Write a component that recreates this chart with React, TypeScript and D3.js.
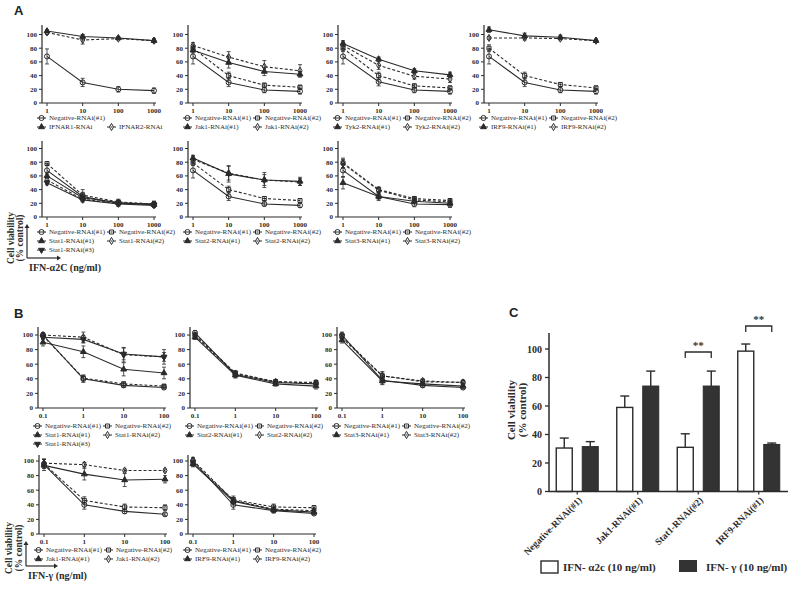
import React from 'react';
import * as d3 from 'd3';

// doses (ng/ml)
const doseA = [1, 10, 100, 1000];
const doseB = [0.1, 1, 10, 100];
const doseALabels = ['1', '10', '100', '1000'];
const doseBLabels = ['0.1', '1', '10', '100'];
const yTicks = [0, 20, 40, 60, 80, 100];

// A, IFN-a2C: IFNAR
const a1Neg1 = [68, 30, 20, 18];
const a1Neg1Err = [11, 6, 4, 4];
const a1Ifnar1 = [105, 97, 95, 91];
const a1Ifnar1Err = [2, 3, 2, 2];
const a1Ifnar2 = [103, 92, 94, 91];
const a1Ifnar2Err = [3, 6, 2, 3];
// Jak1
const a2Neg1 = [68, 30, 19, 17];
const a2Neg2 = [80, 40, 26, 23];
const a2Kd1 = [77, 59, 46, 42];
const a2Kd2 = [84, 67, 53, 47];
const a2Err = [[11, 6, 4, 4], [5, 5, 3, 3], [4, 8, 6, 4], [4, 8, 9, 9]];
// Tyk2
const a3Neg1 = [68, 31, 19, 17];
const a3Neg2 = [80, 40, 25, 22];
const a3Kd1 = [87, 64, 47, 41];
const a3Kd2 = [84, 55, 39, 35];
const a3Err = [[11, 6, 4, 4], [5, 5, 3, 3], [4, 3, 3, 4], [5, 6, 4, 5]];
// IRF9
const a4Neg1 = [68, 30, 19, 17];
const a4Neg2 = [80, 40, 27, 22];
const a4Kd1 = [107, 98, 96, 91];
const a4Kd2 = [95, 95, 94, 91];
const a4Err = [[11, 6, 4, 4], [5, 5, 3, 3], [4, 4, 3, 2], [2, 3, 2, 2]];
// Stat1
const a5Neg1 = [68, 30, 20, 19];
const a5Neg2 = [78, 32, 22, 19];
const a5Kd1 = [60, 28, 21, 18];
const a5Kd2 = [54, 26, 20, 18];
const a5Kd3 = [50, 25, 19, 17];
const a5Err = [[10, 6, 4, 4], [3, 8, 4, 4], [3, 4, 3, 3], [3, 3, 3, 3], [3, 3, 3, 3]];
// Stat2
const a6Neg1 = [68, 30, 19, 17];
const a6Neg2 = [79, 40, 27, 24];
const a6Kd1 = [86, 63, 54, 52];
const a6Kd2 = [84, 64, 54, 51];
const a6Err = [[11, 6, 3, 3], [4, 5, 3, 3], [4, 12, 11, 6], [5, 10, 8, 5]];
// Stat3
const a7Neg1 = [68, 30, 19, 18];
const a7Neg2 = [79, 40, 27, 24];
const a7Kd1 = [50, 30, 23, 20];
const a7Kd2 = [78, 39, 25, 22];
const a7Err = [[10, 6, 4, 4], [7, 4, 3, 3], [9, 4, 3, 3], [6, 4, 3, 3]];

// B, IFN-gamma: Stat1
const b1Neg1 = [100, 40, 31, 28];
const b1Neg2 = [99, 41, 33, 30];
const b1Kd1 = [90, 77, 53, 48];
const b1Kd2 = [100, 97, 73, 70];
const b1Kd3 = [97, 94, 74, 70];
const b1Err = [[3, 5, 3, 2], [3, 4, 3, 2], [5, 8, 9, 8], [3, 7, 10, 10], [3, 5, 8, 6]];
// Stat2
const b2Neg1 = [103, 46, 35, 33];
const b2Neg2 = [100, 48, 36, 35];
const b2Kd1 = [97, 45, 33, 30];
const b2Kd2 = [99, 47, 36, 34];
const b2Err = [[3, 4, 3, 3], [3, 3, 3, 3], [3, 4, 3, 4], [3, 3, 3, 3]];
// Stat3
const b3Neg1 = [100, 38, 31, 28];
const b3Neg2 = [98, 44, 36, 35];
const b3Kd1 = [93, 37, 33, 30];
const b3Kd2 = [96, 44, 37, 35];
const b3Err = [[4, 5, 3, 2], [4, 6, 3, 3], [4, 5, 3, 3], [4, 4, 3, 3]];
// Jak1
const b4Neg1 = [95, 40, 31, 27];
const b4Neg2 = [96, 46, 37, 36];
const b4Kd1 = [94, 82, 74, 75];
const b4Kd2 = [97, 95, 87, 87];
const b4Err = [[8, 6, 3, 2], [6, 5, 4, 4], [4, 8, 9, 5], [5, 3, 2, 2]];
// IRF9
const b5Neg1 = [100, 40, 32, 28];
const b5Neg2 = [97, 47, 37, 36];
const b5Kd1 = [96, 45, 33, 30];
const b5Kd2 = [101, 46, 34, 32];
const b5Err = [[4, 6, 3, 2], [4, 5, 4, 3], [4, 5, 3, 3], [4, 4, 3, 3]];

// C, bars at 10 ng/ml
const cCats = ['Negative-RNAi(#1)', 'Jak1-RNAi(#1)', 'Stat1-RNAi(#2)', 'IRF9-RNAi(#1)'];
const cAlpha = [30.5, 59, 31, 98.5];
const cAlphaErr = [7, 8, 9.5, 5];
const cGamma = [31.5, 74, 74, 33];
const cGammaErr = [3.5, 10.5, 10.5, 1];

const INK = '#2b2b2b';
const SERIF = '"Liberation Serif", "Times New Roman", serif';
const SANS = '"Liberation Sans", Arial, sans-serif';

const s = (name, v, e, sym, dash) => ({ name, v, e, sym, dash });
const std = (names, vals, errs) =>
  vals.map((v, i) => s(names[i], v, errs[i], ['circle', 'square', 'tri', 'diamond', 'itri'][i], i % 2 === 1));
const twoCol = [[0, 0], [0, 1], [1, 0], [1, 1], [2, 0]];

const panels = [
  { ax: 42, y0: 103, top: 25, kind: 'A', ly: 15,
    series: [s('Negative-RNAi(#1)', a1Neg1, a1Neg1Err, 'circle', false),
             s('IFNAR1-RNAi', a1Ifnar1, a1Ifnar1Err, 'tri', false),
             s('IFNAR2-RNAi', a1Ifnar2, a1Ifnar2Err, 'diamond', true)],
    legend: [[0, 0], [1, 0], [1, 1]] },
  { ax: 188, y0: 103, top: 25, kind: 'A', ly: 15, legend: twoCol,
    series: std(['Negative-RNAi(#1)', 'Negative-RNAi(#2)', 'Jak1-RNAi(#1)', 'Jak1-RNAi(#2)'], [a2Neg1, a2Neg2, a2Kd1, a2Kd2], a2Err) },
  { ax: 338, y0: 103, top: 25, kind: 'A', ly: 15, legend: twoCol,
    series: std(['Negative-RNAi(#1)', 'Negative-RNAi(#2)', 'Tyk2-RNAi(#1)', 'Tyk2-RNAi(#2)'], [a3Neg1, a3Neg2, a3Kd1, a3Kd2], a3Err) },
  { ax: 484, y0: 103, top: 25, kind: 'A', ly: 15, legend: twoCol,
    series: std(['Negative-RNAi(#1)', 'Negative-RNAi(#2)', 'IRF9-RNAi(#1)', 'IRF9-RNAi(#2)'], [a4Neg1, a4Neg2, a4Kd1, a4Kd2], a4Err) },
  { ax: 42, y0: 217, top: 141, kind: 'A', ly: 15, legend: twoCol,
    series: std(['Negative-RNAi(#1)', 'Negative-RNAi(#2)', 'Stat1-RNAi(#1)', 'Stat1-RNAi(#2)', 'Stat1-RNAi(#3)'], [a5Neg1, a5Neg2, a5Kd1, a5Kd2, a5Kd3], a5Err) },
  { ax: 188, y0: 217, top: 141, kind: 'A', ly: 15, legend: twoCol,
    series: std(['Negative-RNAi(#1)', 'Negative-RNAi(#2)', 'Stat2-RNAi(#1)', 'Stat2-RNAi(#2)'], [a6Neg1, a6Neg2, a6Kd1, a6Kd2], a6Err) },
  { ax: 338, y0: 217, top: 141, kind: 'A', ly: 15, legend: twoCol,
    series: std(['Negative-RNAi(#1)', 'Negative-RNAi(#2)', 'Stat3-RNAi(#1)', 'Stat3-RNAi(#2)'], [a7Neg1, a7Neg2, a7Kd1, a7Kd2], a7Err) },
  { ax: 38, y0: 408, top: 327, kind: 'B', ly: 18, legend: twoCol,
    series: std(['Negative-RNAi(#1)', 'Negative-RNAi(#2)', 'Stat1-RNAi(#1)', 'Stat1-RNAi(#2)', 'Stat1-RNAi(#3)'], [b1Neg1, b1Neg2, b1Kd1, b1Kd2, b1Kd3], b1Err) },
  { ax: 190, y0: 408, top: 327, kind: 'B', ly: 18, legend: twoCol,
    series: std(['Negative-RNAi(#1)', 'Negative-RNAi(#2)', 'Stat2-RNAi(#1)', 'Stat2-RNAi(#2)'], [b2Neg1, b2Neg2, b2Kd1, b2Kd2], b2Err) },
  { ax: 337, y0: 408, top: 327, kind: 'B', ly: 18, legend: twoCol,
    series: std(['Negative-RNAi(#1)', 'Negative-RNAi(#2)', 'Stat3-RNAi(#1)', 'Stat3-RNAi(#2)'], [b3Neg1, b3Neg2, b3Kd1, b3Kd2], b3Err) },
  { ax: 39, y0: 534, top: 455, kind: 'B', ly: 16, legend: twoCol,
    series: std(['Negative-RNAi(#1)', 'Negative-RNAi(#2)', 'Jak1-RNAi(#1)', 'Jak1-RNAi(#2)'], [b4Neg1, b4Neg2, b4Kd1, b4Kd2], b4Err) },
  { ax: 188, y0: 534, top: 455, kind: 'B', ly: 16, legend: twoCol,
    series: std(['Negative-RNAi(#1)', 'Negative-RNAi(#2)', 'IRF9-RNAi(#1)', 'IRF9-RNAi(#2)'], [b5Neg1, b5Neg2, b5Kd1, b5Kd2], b5Err) },
];

const symType = sym =>
  sym === 'circle' ? d3.symbolCircle : sym === 'square' ? d3.symbolSquare : sym === 'diamond' ? d3.symbolDiamond : d3.symbolTriangle;
const symSize = { circle: 20, square: 16, diamond: 15, tri: 15, itri: 15 };

const Marker = ({ sym, x, y }) => {
  const d = d3.symbol(symType(sym), symSize[sym])();
  const filled = sym === 'tri' || sym === 'itri';
  return (
    <path d={d} transform={`translate(${x},${y})${sym === 'itri' ? ' rotate(180)' : ''}`}
      fill={filled ? INK : 'none'} stroke={INK} strokeWidth={1} />
  );
};

const LinePanel = ({ p }) => {
  const isA = p.kind === 'A';
  const doses = isA ? doseA : doseB;
  const labels = isA ? doseALabels : doseBLabels;
  const x = d3.scaleLog().domain(isA ? [1, 1000] : [0.1, 100]).range(isA ? [p.ax + 5, p.ax + 112] : [p.ax + 5, p.ax + 126]);
  const y = d3.scaleLinear().domain([0, 100]).range([p.y0, p.y0 - (isA ? 68.5 : 73)]);
  const line = d3.line().x((d, i) => x(doses[i])).y(d => y(d));
  const xEnd = x.range()[1] + 2;
  return (
    <g fontFamily={SERIF} fill={INK}>
      {/* axes */}
      <line x1={p.ax} x2={p.ax} y1={p.y0} y2={p.top} stroke={INK} strokeWidth={1.2} />
      <line x1={p.ax} x2={xEnd} y1={p.y0} y2={p.y0} stroke={INK} strokeWidth={1.2} />
      {yTicks.map(t => (
        <g key={t}>
          <line x1={p.ax - 3} x2={p.ax} y1={y(t)} y2={y(t)} stroke={INK} />
          <text x={p.ax - 5} y={y(t)} dy="0.35em" textAnchor="end" fontSize={7} fontWeight="bold">{t}</text>
        </g>
      ))}
      {doses.map((d, i) => (
        <g key={d}>
          <line x1={x(d)} x2={x(d)} y1={p.y0} y2={p.y0 + 3} stroke={INK} />
          <text x={x(d)} y={p.y0 + 9.5} textAnchor="middle" fontSize={7} fontWeight="bold">{labels[i]}</text>
        </g>
      ))}
      {/* series */}
      {p.series.map((sr, k) => (
        <g key={k}>
          <path d={line(sr.v)} fill="none" stroke={INK} strokeWidth={1.1} strokeDasharray={sr.dash ? '3,2' : null} />
          {sr.v.map((v, i) => (
            <g key={i} stroke={INK} strokeWidth={0.8}>
              <line x1={x(doses[i])} x2={x(doses[i])} y1={y(v - sr.e[i])} y2={y(v + sr.e[i])} />
              <line x1={x(doses[i]) - 2} x2={x(doses[i]) + 2} y1={y(v + sr.e[i])} y2={y(v + sr.e[i])} />
              <line x1={x(doses[i]) - 2} x2={x(doses[i]) + 2} y1={y(v - sr.e[i])} y2={y(v - sr.e[i])} />
            </g>
          ))}
          {sr.v.map((v, i) => <Marker key={'m' + i} sym={sr.sym} x={x(doses[i])} y={y(v)} />)}
        </g>
      ))}
      {/* legend */}
      {p.series.map((sr, k) => {
        const [r, c] = p.legend[k];
        const lx = p.ax - 5 + c * 70;
        const ly = p.y0 + p.ly + r * 9;
        return (
          <g key={'l' + k}>
            <line x1={lx} x2={lx + 9} y1={ly} y2={ly} stroke={INK} strokeWidth={1} strokeDasharray={sr.dash ? '2,1.5' : null} />
            <Marker sym={sr.sym} x={lx + 4.5} y={ly} />
            <text x={lx + 12} y={ly} dy="0.33em" fontSize={7}>{sr.name}</text>
          </g>
        );
      })}
    </g>
  );
};

const AxisNote = ({ vx, vy0, vy1, hx1, label, cy, c1, c2 }) => (
  <g fill={INK} fontFamily={SERIF} fontWeight="bold">
    <line x1={vx} x2={vx} y1={vy0} y2={vy1 + 3} stroke={INK} strokeWidth={1.2} />
    <path d={`M${vx - 2.5},${vy1 + 4} L${vx},${vy1} L${vx + 2.5},${vy1 + 4} Z`} />
    <line x1={vx} x2={hx1 - 3} y1={vy0} y2={vy0} stroke={INK} strokeWidth={1.2} />
    <path d={`M${hx1 - 4},${vy0 - 2.5} L${hx1},${vy0} L${hx1 - 4},${vy0 + 2.5} Z`} />
    <text transform={`translate(${c1},${cy}) rotate(-90)`} textAnchor="middle" fontSize={9.5}>Cell viability</text>
    <text transform={`translate(${c2},${cy}) rotate(-90)`} textAnchor="middle" fontSize={9.5}>(% control)</text>
    <text x={vx + 2} y={vy0 + 13} fontSize={10}>{label}</text>
  </g>
);

const BarPanel = () => {
  const y = d3.scaleLinear().domain([0, 100]).range([491.5, 349]);
  const x = d3.scaleBand().domain(cCats).range([547, 789]);
  const cx = c => x(c) + x.bandwidth() / 2;
  const bw = 16;
  const err = (xm, v, e) => (
    <g stroke={INK} strokeWidth={1.4}>
      <line x1={xm} x2={xm} y1={y(v)} y2={y(v + e)} />
      <line x1={xm - 4.5} x2={xm + 4.5} y1={y(v + e)} y2={y(v + e)} />
    </g>
  );
  const bracket = (c, top, lbl) => {
    const x1 = cx(c) - 13, x2 = cx(c) + 13;
    return (
      <g>
        <path d={`M${x1},${top + 6} L${x1},${top} L${x2},${top} L${x2},${top + 6}`} fill="none" stroke={INK} strokeWidth={1.3} />
        <text x={(x1 + x2) / 2} y={top - 3} textAnchor="middle" fontSize={11} fontWeight="bold" fontFamily={SERIF} fill="#333">{lbl}</text>
      </g>
    );
  };
  return (
    <g fontFamily={SERIF} fill={INK}>
      {cCats.map((c, i) => (
        <g key={c}>
          <rect x={cx(c) - 21} y={y(cAlpha[i])} width={bw} height={y(0) - y(cAlpha[i])} fill="white" stroke={INK} strokeWidth={1.4} />
          {err(cx(c) - 13, cAlpha[i], cAlphaErr[i])}
          <rect x={cx(c) + 5} y={y(cGamma[i])} width={bw} height={y(0) - y(cGamma[i])} fill="#333" stroke={INK} strokeWidth={1} />
          {err(cx(c) + 13, cGamma[i], cGammaErr[i])}
          <line x1={cx(c)} x2={cx(c)} y1={y(0)} y2={y(0) + 3} stroke={INK} strokeWidth={1.2} />
          <text transform={`translate(${cx(c) + 3},${y(0) + 7}) rotate(-45)`} textAnchor="end" dy="0.35em" fontSize={9.5} fontWeight="bold">{c}</text>
        </g>
      ))}
      <line x1={549} x2={549} y1={y(0)} y2={333} stroke={INK} strokeWidth={1.5} />
      <line x1={549} x2={788} y1={y(0)} y2={y(0)} stroke={INK} strokeWidth={1.5} />
      {yTicks.map(t => (
        <g key={t}>
          <line x1={545} x2={549} y1={y(t)} y2={y(t)} stroke={INK} strokeWidth={1.3} />
          <text x={542} y={y(t)} dy="0.35em" textAnchor="end" fontSize={10} fontWeight="bold">{t}</text>
        </g>
      ))}
      <text transform="translate(515,410) rotate(-90)" textAnchor="middle" fontSize={11} fontWeight="bold">Cell viability</text>
      <text transform="translate(526,410) rotate(-90)" textAnchor="middle" fontSize={11} fontWeight="bold">(% control)</text>
      {bracket(cCats[2], 352, '**')}
      {bracket(cCats[3], 326, '**')}
      <rect x={541} y={561} width={17} height={12} fill="white" stroke={INK} strokeWidth={1.4} />
      <text x={563} y={571} fontSize={11} fontWeight="bold">IFN- α2c (10 ng/ml)</text>
      <rect x={679} y={560} width={18} height={12} fill="#333" />
      <text x={706} y={571} fontSize={11} fontWeight="bold">IFN- γ (10 ng/ml)</text>
    </g>
  );
};

export default function App() {
  return (
    <svg width={800} height={591} style={{ position: 'absolute', left: 0, top: 0, background: 'white' }}>
      <rect width={800} height={591} fill="white" />
      <g fontFamily={SANS} fontWeight="bold" fontSize={13} fill="#222">
        <text x={14} y={15}>A</text>
        <text x={14} y={318}>B</text>
        <text x={509} y={317}>C</text>
      </g>
      {panels.map((p, i) => <LinePanel key={i} p={p} />)}
      <AxisNote vx={27} vy0={258} vy1={224} hx1={61} label="IFN-α2C (ng/ml)" cy={238} c1={14} c2={23} />
      <AxisNote vx={26} vy0={566} vy1={541} hx1={58} label="IFN-γ (ng/ml)" cy={548} c1={12} c2={22} />
      <BarPanel />
    </svg>
  );
}
